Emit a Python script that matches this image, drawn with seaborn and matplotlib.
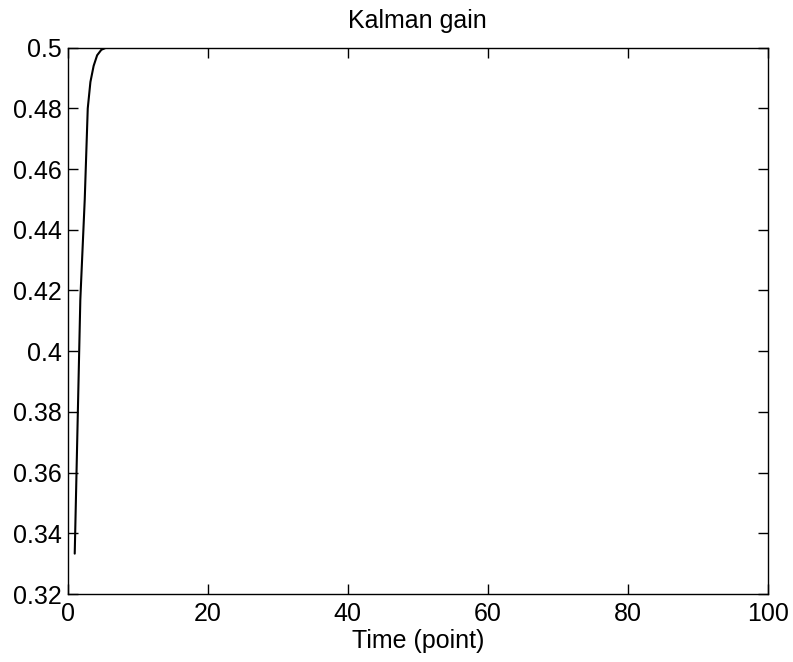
import matplotlib
matplotlib.use("Agg")
import matplotlib.pyplot as plt
import seaborn as sns
import pandas as pd

# Data
time_points = [1.0, 1.8, 2.43, 2.86, 3.24, 3.7, 4.2, 4.8, 5.4, 6.0, 100.0]
kalman_gain = [0.3333, 0.417, 0.450, 0.480, 0.4887, 0.4940, 0.4975, 0.4993, 0.4999, 0.5, 0.5]

x_ticks = [0, 20, 40, 60, 80, 100]
y_ticks = [0.32, 0.34, 0.36, 0.38, 0.40, 0.42, 0.44, 0.46, 0.48, 0.50]
y_tick_labels = ["0.32", "0.34", "0.36", "0.38", "0.4", "0.42", "0.44", "0.46", "0.48", "0.5"]

sns.set_style("white")
plt.rcParams['font.family'] = ['Liberation Sans', 'DejaVu Sans']
plt.rcParams['text.color'] = 'black'
plt.rcParams['axes.labelcolor'] = 'black'

df = pd.DataFrame({"t": time_points, "k": kalman_gain})

fig = plt.figure(figsize=(7.93, 6.62), dpi=100)
ax = fig.add_axes([0.0854, 0.1027, 0.8831, 0.8253])
sns.lineplot(data=df, x="t", y="k", ax=ax, color="black", linewidth=1.5, estimator=None, sort=False)

ax.set_xlim(0, 100)
ax.set_ylim(0.32, 0.5)
ax.set_xticks(x_ticks)
ax.set_xticklabels([str(v) for v in x_ticks])
ax.set_yticks(y_ticks)
ax.set_yticklabels(y_tick_labels)

for s in ax.spines.values():
    s.set_visible(True)
    s.set_color("black")
    s.set_linewidth(1.0)

ax.tick_params(axis="both", which="both", direction="in", length=7, width=1,
               top=True, right=True, bottom=True, left=True, labelsize=18, colors="black")
ax.tick_params(axis="x", pad=6)
ax.tick_params(axis="y", pad=4)

ax.set_title("Kalman gain", fontsize=18, pad=14, color="black")
ax.set_xlabel("Time (point)", fontsize=18, labelpad=2, color="black")
ax.set_ylabel("")

fig.savefig("out.png", dpi=100, facecolor="white")
